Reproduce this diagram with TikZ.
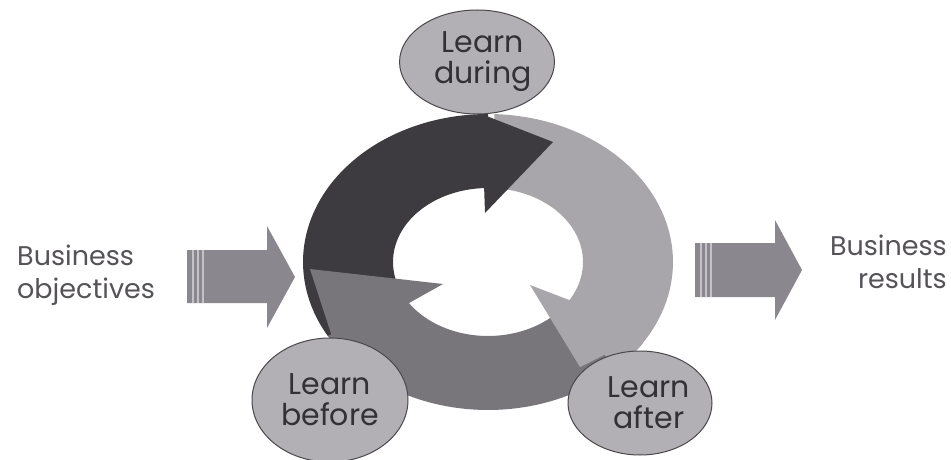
\documentclass[tikz,border=0pt]{standalone}
\usepackage{fontspec}
\setmainfont{Poppins}
\usetikzlibrary{shapes.geometric}
\definecolor{ringDark}{HTML}{3D3B3F}
\definecolor{ringMid}{HTML}{78767A}
\definecolor{ringLight}{HTML}{A8A6AA}
\definecolor{bubble}{HTML}{B2B0B4}
\definecolor{bubbleLine}{HTML}{4A484C}
\definecolor{sideArrow}{HTML}{8A888E}
\definecolor{stripe}{HTML}{C4C2C6}
\definecolor{inkDark}{HTML}{333135}
\definecolor{inkSide}{HTML}{555357}
\begin{document}
\begin{tikzpicture}[x=1pt,y=-1pt,
  bubblenode/.style={ellipse, draw=bubbleLine, line width=1pt, fill=bubble, inner sep=0pt, text=inkDark, align=center, font=\fontsize{30}{31}\selectfont},
  sidetext/.style={text=inkSide, font=\fontsize{27}{33}\selectfont, inner sep=0pt},
  sidearrow/.style={fill=sideArrow},
  stripeline/.style={draw=stripe, line width=1.3pt}]
\useasboundingbox (0,0) rectangle (951,460);
\fill[white] (0,0) rectangle (951,460);

% ring bodies
\fill[ringMid] plot[domain=33:150,samples=60] ({488+185*cos(\x)},{262+148*sin(\x)}) -- plot[domain=150:33,samples=60] ({488+95*cos(\x)},{262+74*sin(\x)}) -- cycle;
\fill[ringDark] plot[domain=150:270,samples=60] ({488+185*cos(\x)},{262+148*sin(\x)}) -- plot[domain=270:150,samples=60] ({488+95*cos(\x)},{262+74*sin(\x)}) -- cycle;
\fill[ringLight] plot[domain=272:405,samples=60] ({488+185*cos(\x)},{262+148*sin(\x)}) -- plot[domain=405:272,samples=60] ({488+95*cos(\x)},{262+74*sin(\x)}) -- cycle;

% arrow heads
\coordinate (dkWingOut) at ({488+185*cos(268)},{262+148*sin(268)});
\coordinate (dkWingIn) at (485,213);
\coordinate (dkTip) at (553,142);
\coordinate (ltWingOut) at ({488+185*cos(28)},{262+148*sin(28)});
\coordinate (ltWingIn) at (530,285);
\coordinate (ltTip) at (580,367);
\coordinate (mdWingOut) at ({488+185*cos(146)},{262+148*sin(146)});
\coordinate (mdWingIn) at (443,284);
\coordinate (mdTip) at (310,269);
\fill[ringDark] (dkWingOut) -- (dkTip) -- (dkWingIn) -- cycle;
\fill[ringLight] (ltWingOut) -- (ltTip) -- (ltWingIn) -- cycle;
\fill[ringMid] (mdWingOut) -- (mdTip) -- (mdWingIn) -- cycle;

% side arrows
\fill[sidearrow] (187,250) -- (267,250) -- (267,226) -- (295,277) -- (267,328) -- (267,303) -- (187,303) -- cycle;
\foreach \sx in {193,198,203} \draw[stripeline] (\sx,250) -- (\sx,303);
\fill[sidearrow] (695,243) -- (775,243) -- (775,220) -- (802,270) -- (775,320) -- (775,297) -- (695,297) -- cycle;
\foreach \sx in {701,706,711} \draw[stripeline] (\sx,243) -- (\sx,297);

% bubbles
\node[bubblenode, minimum width=140pt, minimum height=104pt] (during) at (477,62) {\hspace*{12pt}Learn\\\hspace*{12pt}during};
\node[bubblenode, minimum width=156pt, minimum height=124pt] (before) at (330,400) {Learn\\before};
\node[bubblenode, minimum width=144pt, minimum height=104pt] (after) at (640,403) {\hspace*{18pt}Learn\\\hspace*{18pt}after};

% side texts
\node[sidetext, anchor=north west, align=left] (objectives) at (17,245) {Business\\objectives};
\node[sidetext, anchor=north east, align=right] (results) at (947,235) {Business\\results};
\end{tikzpicture}
\end{document}
